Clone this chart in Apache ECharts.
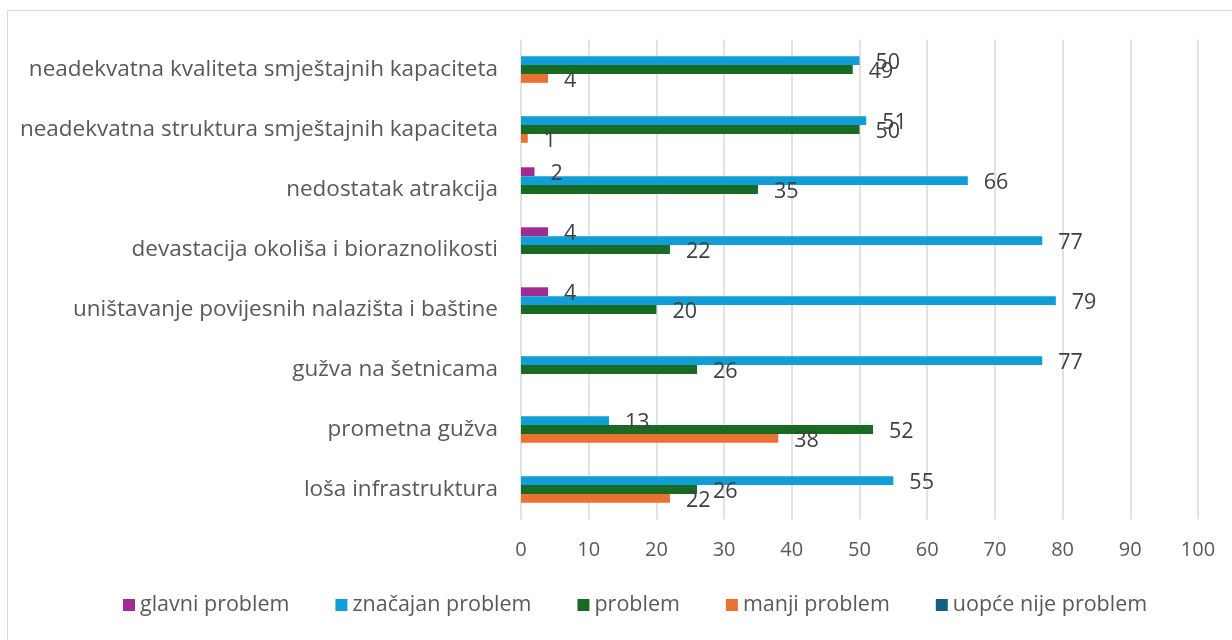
<!DOCTYPE html>
<html>
<head>
<meta charset="utf-8">
<script src="https://cdn.jsdelivr.net/npm/echarts@6/dist/echarts.min.js"></script>
<style>
  html, body { margin: 0; padding: 0; background: #fff; }
  #frame { position: absolute; left: 7px; top: 10px; width: 1240px; height: 650px; border: 1px solid #d9d9d9; box-sizing: border-box; }
  #chart { position: absolute; left: 0; top: 0; width: 1232px; height: 640px; }
</style>
</head>
<body>
<div id="frame"></div>
<div id="chart"></div>
<script>
// categories top to bottom
const categories = [
    "neadekvatna kvaliteta smještajnih kapaciteta",
    "neadekvatna struktura smještajnih kapaciteta",
    "nedostatak atrakcija",
    "devastacija okoliša i bioraznolikosti",
    "uništavanje povijesnih nalazišta i baštine",
    "gužva na šetnicama",
    "prometna gužva",
    "loša infrastruktura"
];
const glavniProblem    = [null, null, 2, 4, 4, null, null, null];
const znacajanProblem  = [50, 51, 66, 77, 79, 77, 13, 55];
const problem          = [49, 50, 35, 22, 20, 26, 52, 26];
const manjiProblem     = [4, 1, null, null, null, null, 38, 22];
const uopceNijeProblem = [null, null, null, null, null, null, null, null];
const xTicks = [0, 10, 20, 30, 40, 50, 60, 70, 80, 90, 100];

const seriesDefs = [
    { name: "glavni problem", data: glavniProblem, color: "#A02B93" },
    { name: "značajan problem", data: znacajanProblem, color: "#0F9ED5" },
    { name: "problem", data: problem, color: "#196B24" },
    { name: "manji problem", data: manjiProblem, color: "#E97132" },
    { name: "uopće nije problem", data: uopceNijeProblem, color: "#156082" }
];

const font = "'Open Sans', sans-serif";

let chart = echarts.init(document.getElementById("chart"));
let option = {
    animation: false,
    textStyle: { fontFamily: font },
    grid: { left: 521, right: 34, top: 39.5, bottom: 120.5, containLabel: false },
    legend: {
        bottom: 19,
        left: 118,
        itemWidth: 12,
        itemHeight: 12,
        itemGap: 46,
        icon: "rect",
        textStyle: { fontSize: 21.5, color: "#595959", fontFamily: font },
        data: seriesDefs.map(s => s.name)
    },
    xAxis: {
        type: "value",
        min: xTicks[0],
        max: xTicks[xTicks.length - 1],
        interval: 10,
        axisLine: { show: false },
        axisTick: { show: false },
        splitLine: { lineStyle: { color: "#d9d9d9", width: 1.5 } },
        axisLabel: { fontSize: 20, color: "#595959", margin: 21 }
    },
    yAxis: {
        type: "category",
        inverse: true,
        data: categories,
        axisLine: { show: false },
        axisTick: { show: false },
        axisLabel: { fontSize: 22.5, color: "#595959", margin: 23 }
    },
    series: seriesDefs.map(s => ({
        name: s.name,
        type: "bar",
        data: s.data,
        barGap: "0%",
        barCategoryGap: "26%",
        itemStyle: { color: s.color },
        label: {
            show: true,
            position: "right",
            distance: 16,
            fontSize: 21.5,
            color: "#404040",
            offset: [0, 2]
        }
    }))
};
chart.setOption(option);
</script>
</body>
</html>
